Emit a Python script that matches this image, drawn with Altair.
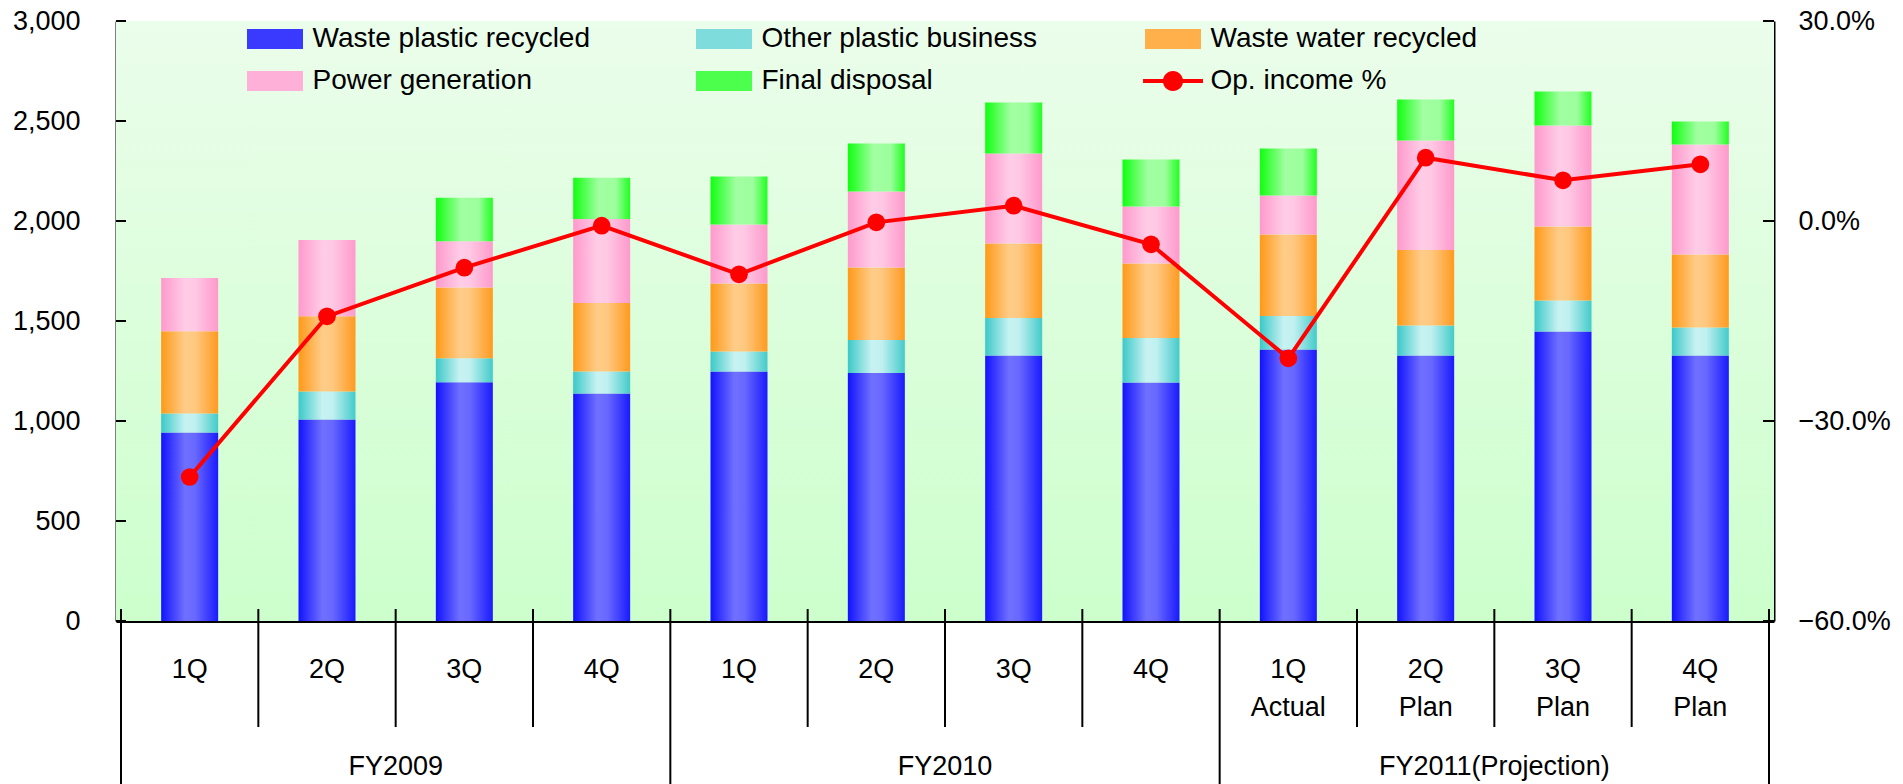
import altair as alt
import pandas as pd

# ---------------- data ----------------
quarters = ["1Q", "2Q", "3Q", "4Q", "1Q", "2Q", "3Q", "4Q", "1Q", "2Q", "3Q", "4Q"]
sub_labels = ["", "", "", "", "", "", "", "", "Actual", "Plan", "Plan", "Plan"]
groups = ["FY2009", "FY2010", "FY2011(Projection)"]
quarters_per_group = [4, 4, 4]

series_names = ["Waste plastic recycled", "Other plastic business",
                "Waste water recycled", "Power generation", "Final disposal"]
waste_plastic = [943, 1008, 1194, 1138, 1248, 1240, 1328, 1193, 1358, 1328, 1448, 1328]
other_plastic = [94, 140, 120, 109, 100, 165, 187, 222, 167, 150, 155, 140]
waste_water = [412, 376, 354, 343, 340, 363, 373, 373, 408, 377, 370, 365]
power_gen = [266, 381, 231, 420, 295, 380, 450, 285, 195, 548, 504, 550]
final_disposal = [0, 0, 217, 206, 240, 240, 255, 235, 235, 205, 171, 115]
op_income_pct = [-38.4, -14.3, -7.0, -0.7, -8.0, -0.2, 2.3, -3.5, -20.6, 9.5, 6.1, 8.5]
line_name = "Op. income %"

left_ticks = [0, 500, 1000, 1500, 2000, 2500, 3000]
right_ticks_pct = [-60, -30, 0, 30]

# ---------------- styling ----------------
FONT = "Liberation Sans"
W, H = 1658, 600
BAR_W = 57


def hgrad(stops):
    return {"gradient": "linear", "x1": 0, "x2": 1, "y1": 0, "y2": 0,
            "stops": [{"offset": o, "color": c} for o, c in stops]}


grads = {
    "Waste plastic recycled": hgrad([(0, "#1212FF"), (0.42, "#7070FF"), (0.6, "#6868FF"), (1, "#1A1AFF")]),
    "Other plastic business": hgrad([(0, "#3CC8C8"), (0.42, "#C8F2F2"), (0.6, "#C0F0F0"), (1, "#44CACA")]),
    "Waste water recycled": hgrad([(0, "#FF9918"), (0.42, "#FFCC88"), (0.6, "#FFC880"), (1, "#FF9A20")]),
    "Power generation": hgrad([(0, "#FF99CC"), (0.42, "#FFCCE6"), (0.6, "#FFC8E4"), (1, "#FF99CC")]),
    "Final disposal": hgrad([(0, "#10FF10"), (0.45, "#A2FFA2"), (0.75, "#9CFF9C"), (1, "#20FF20")]),
}
legend_colors = ["#3A3AFF", "#7FDCDC", "#FFB04A", "#FFB0D8", "#4CFF4C", "#FF0000"]
RECT = "M-1,-0.357H1V0.357H-1Z"
LINEDOT = ("M-1.07,-0.07H1.07V0.07H-1.07Z "
           "M0.36,0A0.36,0.36 0 1,1 -0.36,0A0.36,0.36 0 1,1 0.36,0Z")
legend_shapes = [RECT] * 5 + [LINEDOT]
BG = {"gradient": "linear", "x1": 0, "x2": 0, "y1": 0, "y2": 1,
      "stops": [{"offset": 0, "color": "#EBFDEB"}, {"offset": 1, "color": "#CCFFCC"}]}

# ---------------- tables ----------------
values = [waste_plastic, other_plastic, waste_water, power_gen, final_disposal]
rows = []
for i in range(len(quarters)):
    cum = 0
    for s, vals in zip(series_names, values):
        v = vals[i]
        rows.append({"xc": i + 0.5, "series": s, "y0": cum, "y1": cum + v, "v": v})
        cum += v
bars_df = pd.DataFrame(rows)

cat_df = pd.DataFrame({"xc": [i + 0.5 for i in range(len(quarters))],
                       "q": quarters, "sub": sub_labels,
                       "pct": [p / 100 for p in op_income_pct]})

bounds = [0]
for n in quarters_per_group:
    bounds.append(bounds[-1] + n)
group_df = pd.DataFrame({"g": groups,
                         "xc": [(bounds[k] + bounds[k + 1]) / 2 for k in range(len(groups))]})
group_bounds_df = pd.DataFrame({"b": bounds})
quarter_bounds_df = pd.DataFrame({"b": [b for b in range(1, len(quarters)) if b not in bounds]})

# ---------------- scales / axes ----------------
xs = alt.Scale(domain=[0, len(quarters)], nice=False, zero=False)
ls = alt.Scale(domain=[0, 3000], nice=False)
rs = alt.Scale(domain=[-0.6, 0.3], nice=False, zero=False)

XA = alt.Axis(title=None, labels=False, ticks=False, grid=False, domain=True,
              domainWidth=3, domainColor="black")
YL = alt.Axis(title=None, orient="left", values=left_ticks, format=",d", labelPadding=36,
              ticks=False, tickSize=0, grid=False, domainWidth=2, domainColor="black",
              labelFontSize=27, labelColor="black", labelFont=FONT)
YR = alt.Axis(title=None, orient="right", values=[p / 100 for p in right_ticks_pct], format=".1%",
              labelPadding=24, ticks=False, tickSize=0, grid=False, domainWidth=2,
              domainColor="black", labelFontSize=27, labelColor="black", labelFont=FONT)

dummy = pd.DataFrame({"a": [0]})

bg = alt.Chart(dummy).mark_rect(color=BG).encode(
    x=alt.value(0), x2=alt.value(W), y=alt.value(0), y2=alt.value(H))

bar_layers = []
for s in series_names:
    bar_layers.append(
        alt.Chart(bars_df).transform_filter(
            (alt.datum.series == s) & (alt.datum.v > 0)
        ).mark_bar(color=grads[s], width=BAR_W).encode(
            x=alt.X("xc:Q", scale=xs, axis=XA),
            y=alt.Y("y0:Q", scale=ls, axis=YL),
            y2="y1:Q",
        )
    )

ticks_left = alt.Chart(pd.DataFrame({"v": left_ticks})).mark_rule(
    color="black", strokeWidth=2).encode(
    x=alt.value(0), x2=alt.value(10), y=alt.Y("v:Q", scale=ls, axis=YL))

q_div = alt.Chart(quarter_bounds_df).mark_rule(color="black", strokeWidth=2).encode(
    x=alt.X("b:Q", scale=xs, axis=XA), y=alt.value(588), y2=alt.value(706))
g_div = alt.Chart(group_bounds_df).mark_rule(color="black", strokeWidth=2).encode(
    x=alt.X("b:Q", scale=xs, axis=XA), y=alt.value(588), y2=alt.value(790))

q_text = alt.Chart(cat_df).mark_text(fontSize=27, font=FONT, color="black", baseline="middle").encode(
    x=alt.X("xc:Q", scale=xs, axis=XA), y=alt.value(649), text="q:N")
s_text = alt.Chart(cat_df).mark_text(fontSize=27, font=FONT, color="black", baseline="middle").encode(
    x=alt.X("xc:Q", scale=xs, axis=XA), y=alt.value(687), text="sub:N")
g_text = alt.Chart(group_df).mark_text(fontSize=27, font=FONT, color="black", baseline="middle").encode(
    x=alt.X("xc:Q", scale=xs, axis=XA), y=alt.value(746), text="g:N")

legend_names = series_names + [line_name]
LEG = alt.Legend(title=None, orient="none", legendX=131, legendY=-10, columns=3,
                 direction="horizontal", labelFont=FONT, labelFontSize=28, labelColor="black",
                 symbolSize=3136, symbolStrokeWidth=0, symbolOffset=0, labelOffset=9.5,
                 columnPadding=106, rowPadding=0, padding=0, symbolOpacity=1,
                 labelLimit=400)
legend_layer = alt.Chart(pd.DataFrame({"series": legend_names})).transform_filter(
    "false").mark_point(filled=True).encode(
    color=alt.Color("series:N", scale=alt.Scale(domain=legend_names, range=legend_colors), legend=LEG),
    shape=alt.Shape("series:N", scale=alt.Scale(domain=legend_names, range=legend_shapes), legend=LEG),
)

left = alt.layer(bg, *bar_layers, ticks_left, q_div, g_div, q_text, s_text, g_text, legend_layer)

line = alt.Chart(cat_df).mark_line(color="#FF0000", strokeWidth=4).encode(
    x=alt.X("xc:Q", scale=xs, axis=XA), y=alt.Y("pct:Q", scale=rs, axis=YR))
pts = alt.Chart(cat_df).mark_circle(color="#FF0000", size=314, opacity=1).encode(
    x=alt.X("xc:Q", scale=xs, axis=XA), y=alt.Y("pct:Q", scale=rs, axis=YR))
ticks_right = alt.Chart(pd.DataFrame({"v": [p / 100 for p in right_ticks_pct]})).mark_rule(
    color="black", strokeWidth=2).encode(
    x=alt.value(W - 11), x2=alt.value(W), y=alt.Y("v:Q", scale=rs, axis=YR))

right = alt.layer(line, pts, ticks_right)

chart = alt.layer(left, right).resolve_scale(y="independent").properties(
    width=W, height=H,
    padding={"left": 116, "top": 21, "right": 129, "bottom": 163},
    autosize=alt.AutoSizeParams(type="none"),
    background="white",
).configure_view(stroke=None).configure(font=FONT)

chart.save("out.html", embed_options={"renderer": "svg", "actions": False})
